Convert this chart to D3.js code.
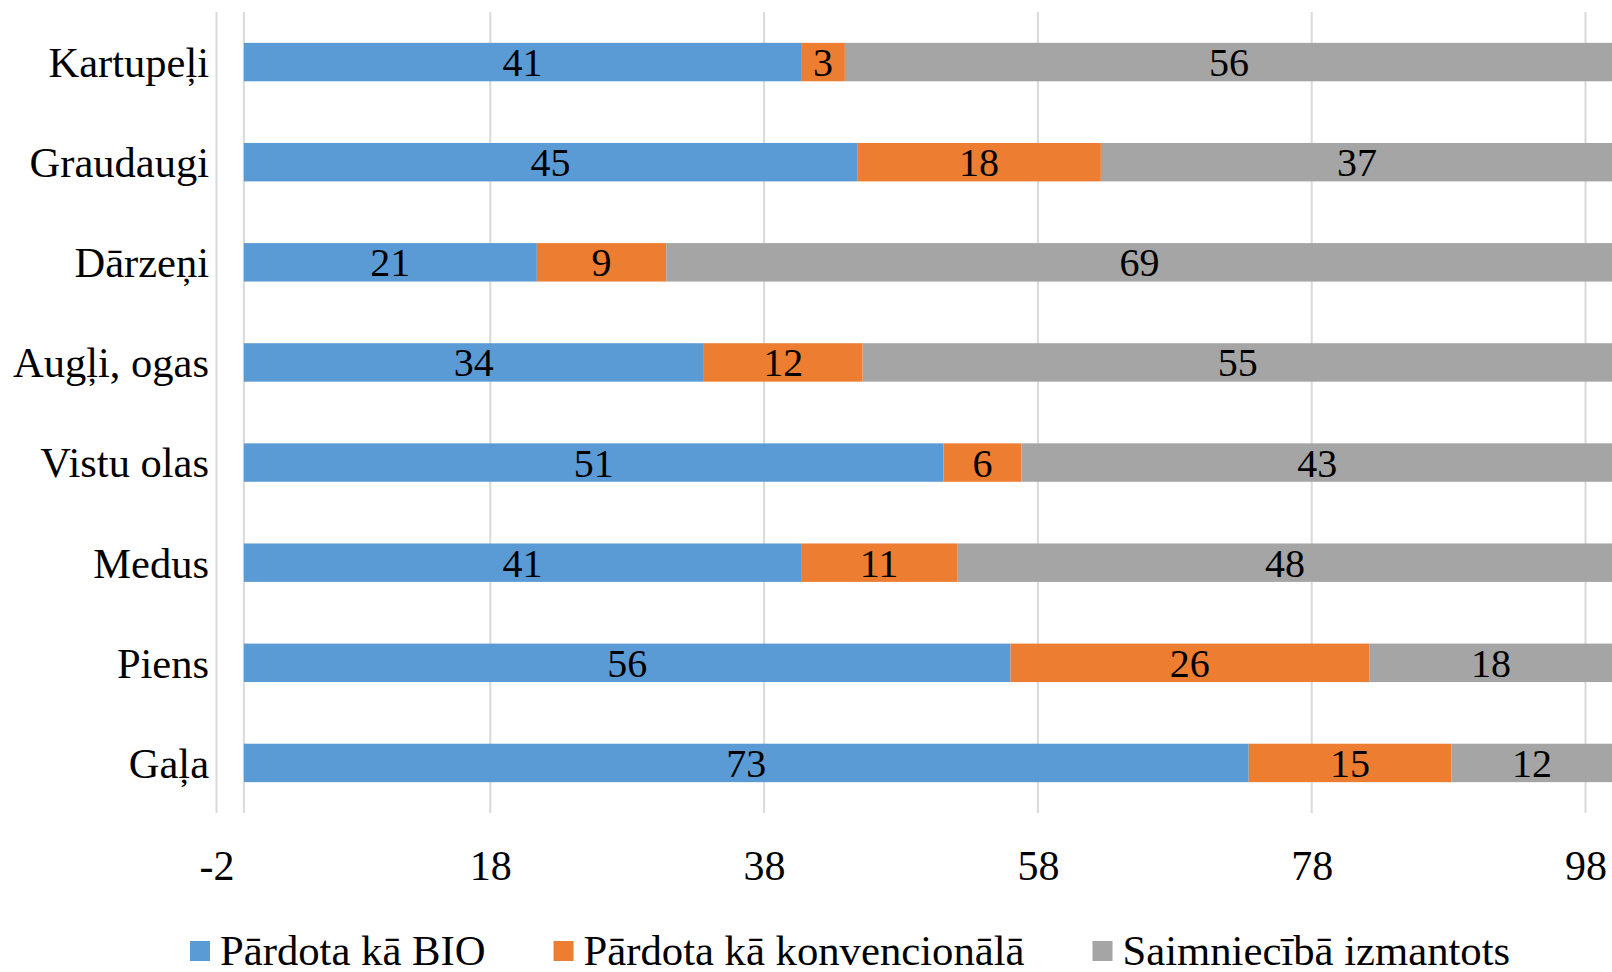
<!DOCTYPE html>
<html>
<head>
<meta charset="utf-8">
<script src="https://cdn.jsdelivr.net/npm/d3@7"></script>
<style>
  html, body { margin: 0; padding: 0; background: #fff; overflow: hidden; }
  text { font-family: "Liberation Serif", "Times New Roman", serif; fill: #000; }
</style>
</head>
<body>
<div id="main"></div>
<script>
// chart data
const categories = ["Kartupeļi", "Graudaugi", "Dārzeņi", "Augļi, ogas", "Vistu olas", "Medus", "Piens", "Gaļa"];
const seriesNames = ["Pārdota kā BIO", "Pārdota kā konvencionālā", "Saimniecībā izmantots"];
const soldBio = [40.7, 44.8, 21.4, 33.6, 51.1, 40.7, 56.0, 73.4];
const soldConventional = [3.2, 17.8, 9.45, 11.6, 5.7, 11.4, 26.2, 14.8];
const usedOnFarm = [56.1, 37.4, 69.15, 54.8, 43.2, 47.9, 17.8, 11.8];
const tickValues = [-2, 18, 38, 58, 78, 98];

const colors = ["#5B9BD5", "#ED7D31", "#A5A5A5"];

const width = 1612, height = 972;
const svg = d3.select("#main").append("svg")
    .attr("width", width).attr("height", height);

const plotTop = 12, plotBottom = 813;
const x = d3.scaleLinear().domain([-2, 98]).range([216.5, 1585.5]);
const y = d3.scaleBand().domain(categories).range([plotTop, plotBottom])
    .paddingInner(0.616).paddingOuter(0.308);

// rows for the stack
const rows = categories.map(function (c, i) {
    return {cat: c, s0: soldBio[i], s1: soldConventional[i], s2: usedOnFarm[i]};
});
const stack = d3.stack().keys(["s0", "s1", "s2"]);
const layers = stack(rows);

// gridlines (plus the value axis line at 0)
const gridVals = tickValues.concat([0]);
svg.append("g").selectAll("line").data(gridVals).enter().append("line")
    .attr("x1", d => x(d)).attr("x2", d => x(d))
    .attr("y1", plotTop).attr("y2", plotBottom)
    .attr("stroke", "#d9d9d9").attr("stroke-width", 2);

// bars
const layerG = svg.append("g").selectAll("g").data(layers).enter().append("g")
    .attr("fill", (d, i) => colors[i]);

layerG.selectAll("rect").data(d => d).enter().append("rect")
    .attr("x", d => x(d[0]))
    .attr("y", d => y(d.data.cat))
    .attr("width", d => x(d[1]) - x(d[0]))
    .attr("height", y.bandwidth());

// value labels
const fmt = d3.format(".0f");
layerG.selectAll("text").data(d => d).enter().append("text")
    .attr("x", d => (x(d[0]) + x(d[1])) / 2)
    .attr("y", d => y(d.data.cat) + y.bandwidth() / 2)
    .attr("dy", "0.35em")
    .attr("text-anchor", "middle")
    .attr("font-size", 40)
    .style("fill", "#000")
    .text(d => fmt(d[1] - d[0]));

// category axis labels
svg.append("g").selectAll("text").data(categories).enter().append("text")
    .attr("x", 209)
    .attr("y", d => y(d) + y.bandwidth() / 2)
    .attr("dy", "0.35em")
    .attr("text-anchor", "end")
    .attr("font-size", 42.5)
    .text(d => d);

// x axis
const xAxis = d3.axisBottom(x).tickValues(tickValues).tickSize(0).tickPadding(0)
    .tickFormat(d => String(d));
const axisG = svg.append("g")
    .attr("transform", "translate(0,880)")
    .call(xAxis);
axisG.select(".domain").remove();
axisG.selectAll("text")
    .attr("dy", 0)
    .attr("font-size", 42)
    .style("font-family", "'Liberation Serif', 'Times New Roman', serif")
    .style("fill", "#000");

// legend
const legend = svg.append("g").attr("transform", "translate(190,0)");
let lx = 0;
seriesNames.forEach(function (name, i) {
    legend.append("rect")
        .attr("x", lx).attr("y", 941)
        .attr("width", 20).attr("height", 20)
        .attr("fill", colors[i]);
    const t = legend.append("text")
        .attr("x", lx + 30).attr("y", 965)
        .attr("font-size", 42.7)
        .text(name);
    lx += 30 + t.node().getComputedTextLength() + 68;
});
</script>
</body>
</html>
